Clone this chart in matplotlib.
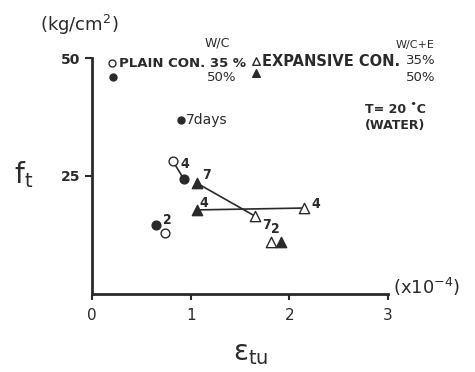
import matplotlib
matplotlib.use("Agg")
import matplotlib.pyplot as plt

# data (strain x1e-4, tensile strength kg/cm2)
plain35_x = [0.82, 0.74]
plain35_y = [28.1, 13.0]
plain35_lbl = ["4", ""]
plain50_x = [0.93, 0.65]
plain50_y = [24.3, 14.6]
plain50_lbl = ["", "2"]
exp35_x = [2.15, 1.65, 1.81]
exp35_y = [18.2, 16.5, 10.9]
exp35_lbl = ["4", "7", "2"]
exp50_x = [1.06, 1.06, 1.91]
exp50_y = [23.5, 17.8, 10.9]
exp50_lbl = ["7", "4", ""]

c = "#2a2a2a"
plt.rcParams['font.family'] = ['DejaVu Sans']

fig = plt.figure(figsize=(4.75, 3.72), dpi=100)
ax = fig.add_axes([0.194, 0.21, 0.623, 0.634])
ax.set_xlim(0, 3)
ax.set_ylim(0, 50)
for s in ["top", "right"]:
    ax.spines[s].set_visible(False)
for s in ["left", "bottom"]:
    ax.spines[s].set_linewidth(2)
    ax.spines[s].set_color(c)
ax.set_xticks([0, 1, 2, 3])
ax.set_xticklabels(["0", "1", "2", "3"], fontsize=11, color=c)
ax.set_yticks([25, 50])
ax.set_yticklabels(["25", "50"], fontsize=10, fontweight="bold", color=c)
ax.tick_params(colors=c, width=1.5, length=5)
ax.tick_params(axis="x", length=4, pad=6)

# connecting lines
ax.plot([plain35_x[0], plain50_x[0]], [plain35_y[0], plain50_y[0]], color=c, lw=1.2, zorder=1)
ax.plot([exp50_x[0], exp35_x[1]], [exp50_y[0], exp35_y[1]], color=c, lw=1.2, zorder=1)
ax.plot([exp50_x[1], exp35_x[0]], [exp50_y[1], exp35_y[0]], color=c, lw=1.2, zorder=1)

ax.scatter(plain35_x, plain35_y, s=40, facecolor="white", edgecolor=c, marker="o", lw=1, zorder=3)
ax.scatter(plain50_x, plain50_y, s=40, facecolor=c, edgecolor=c, marker="o", zorder=3)
ax.scatter(exp35_x, exp35_y, s=55, facecolor="white", edgecolor=c, marker="^", lw=1, zorder=3)
ax.scatter(exp50_x, exp50_y, s=55, facecolor=c, edgecolor=c, marker="^", zorder=3)

lab = dict(fontsize=10, fontweight="bold", color=c, fontstretch="condensed")
ax.annotate(plain35_lbl[0], (plain35_x[0], plain35_y[0]), xytext=(5, -5), textcoords="offset points", **lab)
ax.annotate(plain50_lbl[1], (plain50_x[1], plain50_y[1]), xytext=(5, 1), textcoords="offset points", **lab)
ax.annotate(exp35_lbl[0], (exp35_x[0], exp35_y[0]), xytext=(5, 0), textcoords="offset points", **lab)
ax.annotate(exp35_lbl[1], (exp35_x[1], exp35_y[1]), xytext=(5, -9), textcoords="offset points", **lab)
ax.annotate(exp35_lbl[2], (exp35_x[2], exp35_y[2]), xytext=(0, 7), textcoords="offset points", **lab)
ax.annotate(exp50_lbl[0], (exp50_x[0], exp50_y[0]), xytext=(4, 3), textcoords="offset points", **lab)
ax.annotate(exp50_lbl[1], (exp50_x[1], exp50_y[1]), xytext=(2, 2), textcoords="offset points", **lab)

# legend (drawn as text)
ax.scatter([0.2], [49.0], s=25, facecolor="white", edgecolor=c, marker="o", lw=1, clip_on=False)
ax.scatter([0.21], [46.0], s=25, facecolor=c, edgecolor=c, marker="o", clip_on=False)
ax.text(0.27, 48.9, "PLAIN CON. 35 %", fontsize=9.5, fontweight="bold", color=c, va="center")
ax.text(1.46, 45.8, "50%", fontsize=9.5, color=c, va="center", ha="right")
ax.text(1.27, 53.2, "W/C", fontsize=9, color=c, va="center", ha="center")
ax.scatter([1.66], [49.4], s=30, facecolor="white", edgecolor=c, marker="^", lw=1, clip_on=False)
ax.scatter([1.66], [46.9], s=30, facecolor=c, edgecolor=c, marker="^", clip_on=False)
ax.text(1.72, 49.3, "EXPANSIVE CON.", fontsize=10.5, fontweight="bold", color=c, va="center")
ax.text(3.27, 52.8, "W/C+E", fontsize=8, color=c, va="center", ha="center")
ax.text(3.48, 49.5, "35%", fontsize=9.5, color=c, va="center", ha="right")
ax.text(3.48, 45.8, "50%", fontsize=9.5, color=c, va="center", ha="right")
ax.scatter([0.9], [36.9], s=25, facecolor=c, edgecolor=c, marker="o")
ax.text(0.95, 36.9, "7days", fontsize=10, color=c, va="center")
ax.text(3.07, 39.0, "T= 20 \u02daC", fontsize=9, fontweight="bold", color=c, va="center", ha="center")
ax.text(3.07, 35.6, "(WATER)", fontsize=9, fontweight="bold", color=c, va="center", ha="center")

fig.text(0.084, 0.933, "(kg/cm$^2$)", fontsize=13, color=c, va="center")
fig.text(0.03, 0.53, "f$_\\mathregular{t}$", fontsize=20, color=c, va="center")
fig.text(0.827, 0.228, "(x10$^{-4}$)", fontsize=13, color=c, va="center")
fig.text(0.527, 0.05, "\u03b5$_\\mathregular{tu}$", fontsize=20, color=c, va="center", ha="center")

fig.savefig("out.png", dpi=100)
